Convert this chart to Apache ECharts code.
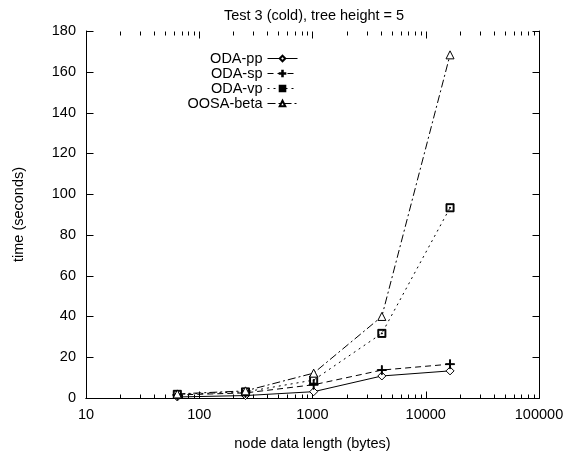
<!DOCTYPE html>
<html>
<head>
<meta charset="utf-8">
<script src="https://cdn.jsdelivr.net/npm/echarts@6/dist/echarts.min.js"></script>
<style>html,body{margin:0;padding:0;background:#fff}#c{width:567px;height:460px}</style>
</head>
<body>
<div id="c"></div>
<script>
const xValues = [64, 256, 1024, 4096, 16384];
const odaPP = [0.5, 1.2, 3.1, 10.8, 13.3];
const odaSP = [1.5, 2.5, 6.5, 13.7, 16.6];
const odaVP = [1.8, 3.0, 8.8, 31.7, 93.3];
const oosaBeta = [2.0, 3.5, 12.2, 40.0, 168.3];
const seriesNames = ['ODA-pp', 'ODA-sp', 'ODA-vp', 'OOSA-beta'];
const xTickLabels = ['10', '100', '1000', '10000', '100000'];
const xMajorTicks = [10, 100, 1000, 10000, 100000];
const yTicks = [0, 20, 40, 60, 80, 100, 120, 140, 160, 180];
const xMinorTicks = [];
[10, 100, 1000, 10000].forEach(d => { for (let k = 2; k <= 9; k++) xMinorTicks.push(d * k); });

const FONT = 'Liberation Sans, Arial, sans-serif';
const FS = 14.5;
const pair = arr => xValues.map((x, i) => [x, arr[i]]);

const PLUS = 'path://M4.5,0h1v10h-1zM0,4.5h10v1h-10z';
const BOX = 'path://M0,0h10v10h-10zM1.1,1.1v7.8h7.8v-7.8zM4.4,4.4h1.2v1.2h-1.2z';

const tickData = []
  .concat(xMinorTicks.map(v => [v, 0, 0]))
  .concat(xMajorTicks.map(v => [v, 0, 1]))
  .concat(yTicks.map(v => [10, v, 2]));

const chart = echarts.init(document.getElementById('c'), null, {renderer: 'canvas'});
const xAxisBase = {
  type: 'log', logBase: 10, min: 10, max: 100000,
  axisLine: {show: true, lineStyle: {color: '#000', width: 1}},
  axisTick: {show: false},
  splitLine: {show: false}
};
const yAxisBase = {
  type: 'value', min: 0, max: 180, interval: 20,
  axisLine: {show: true, lineStyle: {color: '#000', width: 1}},
  axisTick: {show: false},
  splitLine: {show: false}
};
const legendTops = [51, 66, 81, 96];
const mkSeries = (name, data, symbol, size, fill, dash) => ({
  name, type: 'line', data: pair(data), symbol, symbolSize: size,
  showSymbol: true,
  itemStyle: {color: fill, borderColor: '#000', borderWidth: 1},
  lineStyle: {color: '#000', width: 1, type: dash},
  emphasis: {disabled: true}, animation: false, z: 3
});
const option = {
  animation: false,
  backgroundColor: '#fff',
  textStyle: {fontFamily: FONT},
  title: {
    text: 'Test 3 (cold), tree height = 5', left: 219, top: 3,
    textStyle: {fontFamily: FONT, fontSize: FS, fontWeight: 'normal', color: '#000'}
  },
  grid: {left: 86, right: 28, top: 31, bottom: 62, containLabel: false},
  legend: seriesNames.map((n, i) => ({
    data: [n], right: 269, top: legendTops[i], orient: 'vertical', align: 'right',
    padding: 0, itemWidth: 30, itemHeight: 7, selectedMode: false,
    lineStyle: {width: 1},
    textStyle: {fontFamily: FONT, fontSize: FS, color: '#000'}
  })),
  xAxis: [
    Object.assign({}, xAxisBase, {
      position: 'bottom',
      name: 'node data length (bytes)', nameLocation: 'middle', nameGap: 38,
      nameTextStyle: {fontFamily: FONT, fontSize: FS, color: '#000'},
      axisLabel: {color: '#000', fontFamily: FONT, fontSize: FS, margin: 9,
        formatter: v => { const i = Math.round(Math.log10(v)) - 1; return xTickLabels[i] || ''; }}
    }),
    Object.assign({}, xAxisBase, {position: 'top', axisLabel: {show: false}})
  ],
  yAxis: [
    Object.assign({}, yAxisBase, {
      position: 'left',
      name: 'time (seconds)', nameLocation: 'middle', nameGap: 60,
      nameTextStyle: {fontFamily: FONT, fontSize: FS, color: '#000'},
      axisLabel: {color: '#000', fontFamily: FONT, fontSize: FS, margin: 10}
    }),
    Object.assign({}, yAxisBase, {position: 'right', axisLabel: {show: false}})
  ],
  series: [
    mkSeries('ODA-pp', odaPP, 'diamond', 8, '#fff', 'solid'),
    mkSeries('ODA-sp', odaSP, PLUS, 9, '#000', [6, 4]),
    mkSeries('ODA-vp', odaVP, BOX, 8, '#000', [2, 4]),
    mkSeries('OOSA-beta', oosaBeta, 'triangle', 8, '#fff', [8, 3, 2, 3]),
    {
      type: 'custom', silent: true, clip: false, z: 2,
      data: tickData,
      renderItem: (params, api) => {
        const kind = api.value(2);
        const cs = params.coordSys;
        const left = Math.round(cs.x) + 0.5, right = Math.round(cs.x + cs.width) + 0.5;
        const top = Math.round(cs.y) + 0.5, bot = Math.round(cs.y + cs.height) + 0.5;
        const st = {stroke: '#000', lineWidth: 1};
        if (kind === 2) {
          const p = api.coord([api.value(0), api.value(1)]);
          const y = Math.round(p[1]) + 0.5;
          return {type: 'group', children: [
            {type: 'line', shape: {x1: left, y1: y, x2: left + 7, y2: y}, style: st},
            {type: 'line', shape: {x1: right, y1: y, x2: right - 7, y2: y}, style: st}
          ]};
        }
        const p = api.coord([api.value(0), 0]);
        const x = Math.round(p[0]) + 0.5;
        const len = kind === 1 ? 7 : 4;
        return {type: 'group', children: [
          {type: 'line', shape: {x1: x, y1: bot, x2: x, y2: bot - len}, style: st},
          {type: 'line', shape: {x1: x, y1: top, x2: x, y2: top + len}, style: st}
        ]};
      }
    }
  ]
};
chart.setOption(option);
</script>
</body>
</html>
